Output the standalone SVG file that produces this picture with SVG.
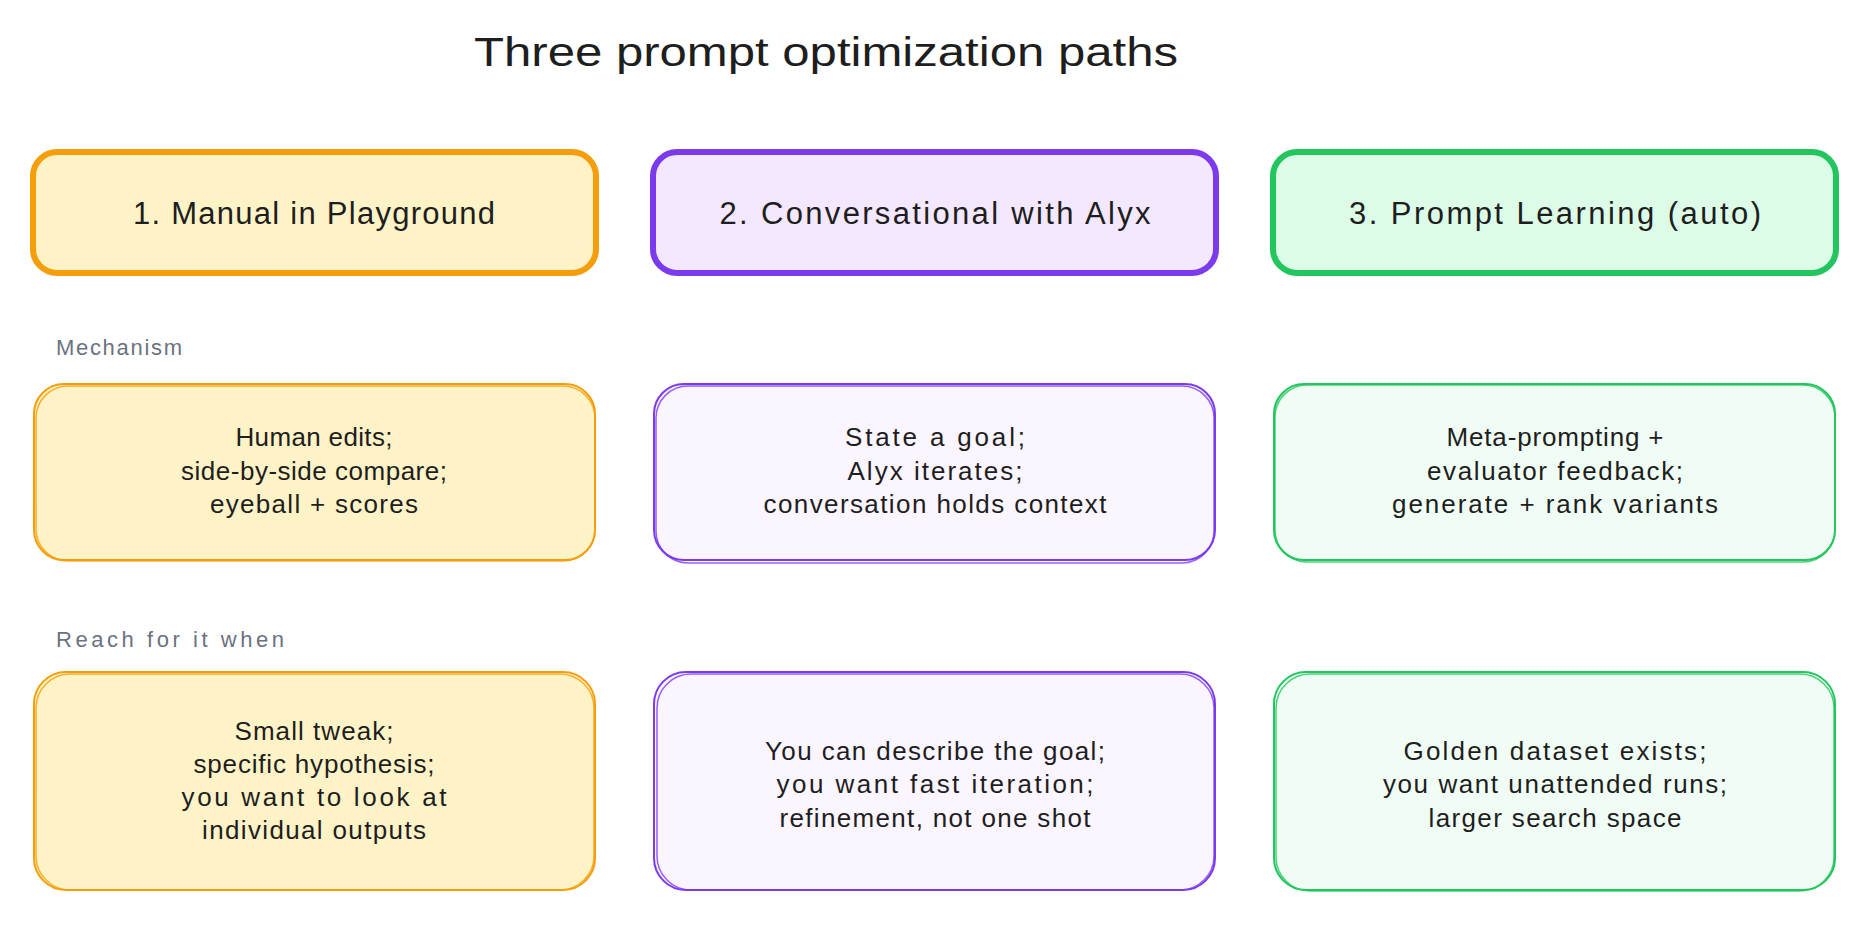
<svg xmlns="http://www.w3.org/2000/svg" width="1869" height="927" viewBox="0 0 1869 927">
<style>
text{font-family:"Liberation Sans",Arial,sans-serif;fill:#1e1e1e;text-anchor:middle;dominant-baseline:central}
.title{font-size:40px}
.hdr{font-size:31px}
.body{font-size:26px}
.lbl{font-size:22px;fill:#6b7280;text-anchor:start}
.hy{fill:#fef3c7;stroke:#f59e0b;stroke-width:6}
.hp{fill:#f3e8ff;stroke:#7c3aed;stroke-width:6}
.hg{fill:#dcfce7;stroke:#22c55e;stroke-width:6}
.by{fill:#fef3c7;stroke:#f59e0b;stroke-width:2}
.bp{fill:#faf5ff;stroke:#7c3aed;stroke-width:2}
.bg{fill:#f0fdf4;stroke:#22c55e;stroke-width:2}
.sy{fill:none;stroke:#f59e0b;stroke-width:1.5;opacity:.8}
.sp{fill:none;stroke:#7c3aed;stroke-width:1.5;opacity:.8}
.sg{fill:none;stroke:#22c55e;stroke-width:1.5;opacity:.8}
</style>
<rect width="1869" height="927" fill="#ffffff"/>
<text class="title" x="826" y="52" textLength="704" lengthAdjust="spacingAndGlyphs">Three prompt optimization paths</text>

<g id="hdr1">
<rect class="hy" x="33" y="152" width="563" height="121" rx="24"/>
<text class="hdr" x="314" y="213" textLength="362">1. Manual in Playground</text>
</g>
<g id="hdr2">
<rect class="hp" x="653" y="152" width="563" height="121" rx="24"/>
<text class="hdr" x="935" y="213" textLength="431">2. Conversational with Alyx</text>
</g>
<g id="hdr3">
<rect class="hg" x="1273" y="152" width="563" height="121" rx="24"/>
<text class="hdr" x="1555" y="213" textLength="412">3. Prompt Learning (auto)</text>
</g>

<text class="lbl" id="lbl-mech" x="56" y="347" textLength="126">Mechanism</text>

<g id="mech1">
<rect class="by" x="34" y="384" width="561" height="176" rx="30"/>
<rect class="sy" x="36" y="386" width="559" height="175" rx="32"/>
<text class="body" x="314" y="437" textLength="157">Human edits;</text>
<text class="body" x="314" y="471" textLength="266">side-by-side compare;</text>
<text class="body" x="314" y="504" textLength="208">eyeball + scores</text>
</g>
<g id="mech2">
<rect class="bp" x="654" y="384" width="561" height="176" rx="30"/>
<rect class="sp" x="656" y="386" width="558" height="177" rx="32"/>
<text class="body" x="935" y="437" textLength="180">State a goal;</text>
<text class="body" x="935" y="471" textLength="175">Alyx iterates;</text>
<text class="body" x="935" y="504" textLength="343">conversation holds context</text>
</g>
<g id="mech3">
<rect class="bg" x="1274" y="384" width="561" height="176" rx="30"/>
<rect class="sg" x="1275" y="385" width="560" height="177" rx="32"/>
<text class="body" x="1555" y="437" textLength="217">Meta-prompting +</text>
<text class="body" x="1555" y="471" textLength="256">evaluator feedback;</text>
<text class="body" x="1555" y="504" textLength="326">generate + rank variants</text>
</g>

<text class="lbl" id="lbl-reach" x="56" y="639" textLength="228">Reach for it when</text>

<g id="reach1">
<rect class="by" x="34" y="672" width="561" height="218" rx="32"/>
<rect class="sy" x="36" y="674" width="558" height="216" rx="34"/>
<text class="body" x="314" y="731" textLength="159">Small tweak;</text>
<text class="body" x="314" y="764" textLength="241">specific hypothesis;</text>
<text class="body" x="314" y="797" textLength="265">you want to look at</text>
<text class="body" x="314" y="830" textLength="224">individual outputs</text>
</g>
<g id="reach2">
<rect class="bp" x="654" y="672" width="561" height="218" rx="32"/>
<rect class="sp" x="657" y="674" width="557" height="216" rx="34"/>
<text class="body" x="935" y="751" textLength="340">You can describe the goal;</text>
<text class="body" x="935" y="784" textLength="317">you want fast iteration;</text>
<text class="body" x="935" y="818" textLength="311">refinement, not one shot</text>
</g>
<g id="reach3">
<rect class="bg" x="1274" y="672" width="561" height="218" rx="32"/>
<rect class="sg" x="1276" y="674" width="558" height="217" rx="34"/>
<text class="body" x="1555" y="751" textLength="303">Golden dataset exists;</text>
<text class="body" x="1555" y="784" textLength="344">you want unattended runs;</text>
<text class="body" x="1555" y="818" textLength="253">larger search space</text>
</g>
<g id="connectors"></g>
</svg>
